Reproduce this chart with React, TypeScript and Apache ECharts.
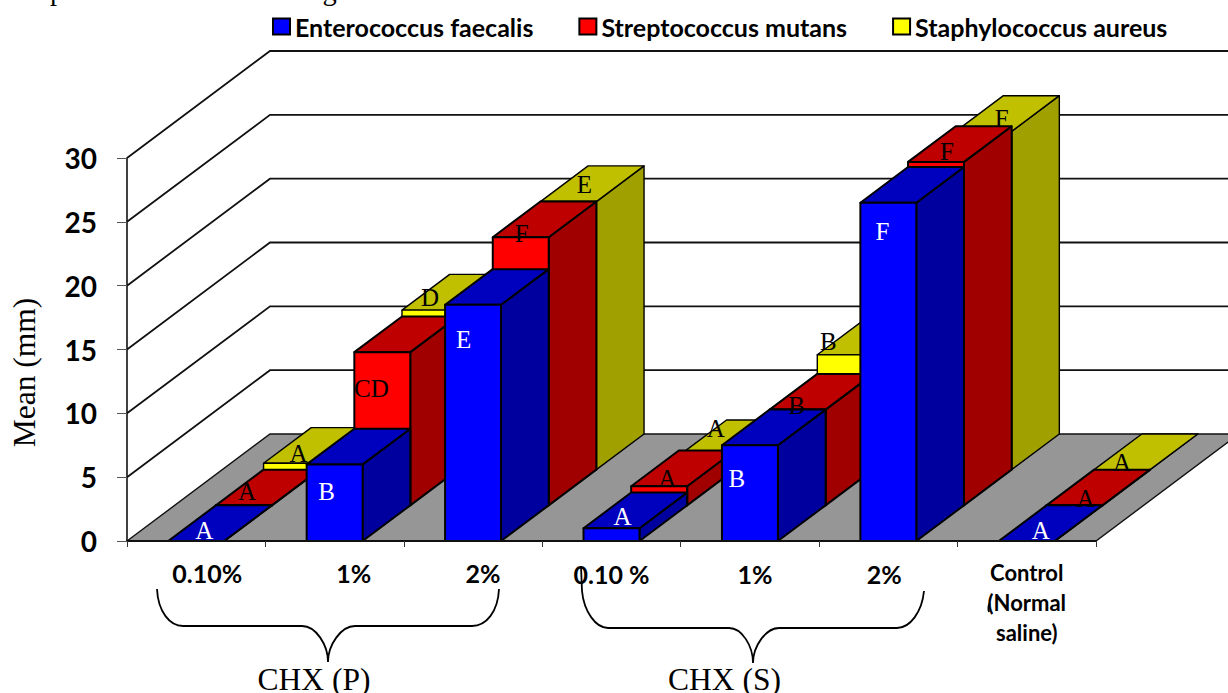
import React, { useEffect, useRef } from "react";
import * as echarts from "echarts";

const categories = ["0.10%", "1%", "2%", "0.10 %", "1%", "2%", "Control\n(Normal\nsaline)"];
const yTicks = [0, 5, 10, 15, 20, 25, 30];

const seriesNames = ["Enterococcus faecalis", "Streptococcus mutans", "Staphylococcus aureus"];
const faecalisValues = [0, 6, 18.5, 1, 7.5, 26.5, 0];
const mutansValues = [0, 12, 21, 1.5, 7.5, 26.9, 0];
const aureusValues = [0.5, 12.5, 21, 1.1, 9, 26.5, 0];

const faecalisLetters = ["A", "B", "E", "A", "B", "F", "A"];
const mutansLetters = ["A", "CD", "F", "A", "B", "F", "A"];
const aureusLetters = ["A", "D", "E", "A", "B", "F", "A"];

const groupLabels = ["CHX (P)", "CHX (S)"];
const clippedCaption = "produced zones with larger diameters than";

// ---- layout & style (not data) ----
const DEPTH_X = 143;
const DEPTH_Y = 107;
const ROW_X = DEPTH_X / 3;
const ROW_Y = DEPTH_Y / 3;
const BAR_RATIO = 56 / 138.57;
const LATO = "Lato, 'Open Sans', sans-serif";
const SERIF = "'Liberation Serif', 'Times New Roman', serif";

const palettes = [
  { front: "#0000ff", top: "#0000bf", side: "#00009f", line: 2 },
  { front: "#ff0000", top: "#bf0000", side: "#a00000", line: 2 },
  { front: "#ffff00", top: "#c0c000", side: "#a0a000", line: 1.4 },
];

// label nudges relative to each bar's top front-left corner
const labelNudges = [
  [[36, -11], [20, 27], [18.5, 35], [39, -12], [15, 33], [22, 29], [42, -11]],
  [[31, -14], [17, 36], [29, -4], [36, -8], [27, -4], [39, -10], [39, -7]],
  [[35, -10], [28, -13], [44, -17], [37, -27], [11, -13], [46, -13], [28, -7]],
];

// per-label shift of the category labels: [down, right]
const tickShift = [[5, 11], [5, 19], [5, 10], [8, 0], [8, 5], [8, -4], [0, 0]];

echarts.graphic.registerShape(
  "braceP",
  echarts.graphic.extendPath(
    "M157 589 C158 612 170 626 183 626 L302 626 C316 626 328 645 328 662 C328 645 341 626 355 626 L472 626 C486 626 498 612 499 589",
    {}
  )
);
echarts.graphic.registerShape(
  "braceS",
  echarts.graphic.extendPath(
    "M581 566 L582 591 C584 612 596 628 608 628 L729 628 C742 628 753 646 753 663 C753 646 766 628 779 628 L897 628 C910 628 922 612 924 591",
    {}
  )
);
echarts.graphic.registerShape("nick", echarts.graphic.extendPath("M990 603 C988 606 988 609 989 612", {}));

function barRenderer(row: number) {
  const pal = palettes[row];
  return (_p: any, api: any) => {
    const i = api.value(0);
    const v = api.value(1);
    const band = api.size([1, 0])[0];
    const w = band * BAR_RATIO;
    const ox = row * ROW_X;
    const oy = -row * ROW_Y;
    const base = api.coord([i, 0]);
    const head = api.coord([i, v]);
    const x0 = base[0] - w / 2 + ox;
    const x1 = x0 + w;
    const yB = base[1] + oy;
    const yT = head[1] + oy;
    const st = (fill: string) => ({ fill, stroke: "#000", lineWidth: pal.line, lineJoin: "round" });
    const poly = (points: number[][], fill: string) => ({ type: "polygon", shape: { points }, style: st(fill) });
    return {
      type: "group",
      children: [
        poly([[x1, yB], [x1 + ROW_X, yB - ROW_Y], [x1 + ROW_X, yT - ROW_Y], [x1, yT]], pal.side),
        poly([[x0, yT], [x1, yT], [x1 + ROW_X, yT - ROW_Y], [x0 + ROW_X, yT - ROW_Y]], pal.top),
        poly([[x0, yB], [x1, yB], [x1, yT], [x0, yT]], pal.front),
      ],
    };
  };
}

function letterRenderer(row: number, letters: string[], fill: string) {
  return (_p: any, api: any) => {
    const i = api.value(0);
    const v = api.value(1);
    const band = api.size([1, 0])[0];
    const p = api.coord([i, v]);
    const n = labelNudges[row][i];
    return {
      type: "text",
      x: p[0] - (band * BAR_RATIO) / 2 + row * ROW_X + n[0],
      y: p[1] - row * ROW_Y + n[1],
      style: { text: letters[i], fill, font: `25px ${SERIF}`, align: "center", verticalAlign: "middle" },
    };
  };
}

const renderFloor = (_p: any, api: any) => {
  const band = api.size([1, 0])[0];
  const a = api.coord([0, 0]);
  const b = api.coord([categories.length - 1, 0]);
  const xl = a[0] - band / 2;
  const xr = b[0] + band / 2;
  return {
    type: "polygon",
    shape: { points: [[xl, a[1]], [xl + DEPTH_X, a[1] - DEPTH_Y], [xr + DEPTH_X, a[1] - DEPTH_Y], [xr, a[1]]] },
    style: { fill: "#969696", stroke: "#111", lineWidth: 1.4 },
  };
};

const renderWall = (_p: any, api: any) => {
  const band = api.size([1, 0])[0];
  const v = api.value(1);
  const a = api.coord([0, v]);
  const b = api.coord([categories.length - 1, v]);
  const xl = a[0] - band / 2;
  const xr = b[0] + band / 2;
  return {
    type: "polyline",
    shape: { points: [[xl, a[1]], [xl + DEPTH_X, a[1] - DEPTH_Y], [xr + DEPTH_X, a[1] - DEPTH_Y]] },
    style: { fill: null, stroke: "#111", lineWidth: 1.8 },
  };
};

const pairs = (vals: number[]) => vals.map((v, i) => [i, v]);

function buildOption(): any {
  const valueSets = [faecalisValues, mutansValues, aureusValues];
  const letterSets = [faecalisLetters, mutansLetters, aureusLetters];
  const letterFill = ["#ffffff", "#000000", "#000000"];
  const rich: any = {};
  tickShift.forEach((s, i) => {
    const control = i === categories.length - 1;
    rich["a" + i] = {
      fontFamily: LATO,
      fontWeight: "bold",
      fontSize: control ? 22 : 25,
      lineHeight: control ? 30 : 26,
      color: "#000",
      padding: [s[0], s[1] < 0 ? -2 * s[1] : 0, 0, s[1] > 0 ? 2 * s[1] : 0],
    };
  });
  return {
    animation: false,
    backgroundColor: "#ffffff",
    grid: { left: 126, top: 158, width: 970, height: 383, containLabel: false },
    legend: {
      left: 267,
      top: 9,
      itemWidth: 17,
      itemHeight: 16,
      itemGap: 45,
      selectedMode: false,
      textStyle: { fontFamily: LATO, fontWeight: "bold", fontSize: 25, color: "#000" },
      data: seriesNames.map((name, r) => ({
        name,
        icon: "rect",
        itemStyle: { color: palettes[r].front, borderColor: "#000", borderWidth: 2 },
      })),
    },
    xAxis: {
      type: "category",
      data: categories,
      z: 6,
      axisLine: { lineStyle: { color: "#111", width: 2 } },
      axisTick: { show: true, alignWithLabel: false, length: 6, lineStyle: { color: "#333", width: 1 } },
      splitLine: { show: false },
      axisLabel: {
        interval: 0,
        margin: 16,
        formatter: (value: string, index: number) => `{a${index}|${value}}`,
        rich,
      },
    },
    yAxis: {
      type: "value",
      min: yTicks[0],
      max: yTicks[yTicks.length - 1],
      interval: 5,
      z: 6,
      name: "Mean (mm)",
      nameLocation: "middle",
      nameRotate: 90,
      nameGap: 87,
      nameTextStyle: { fontFamily: SERIF, fontSize: 31.5, color: "#000", padding: [0, 46, 0, 0] },
      axisLine: { show: true, lineStyle: { color: "#111", width: 1.6 } },
      axisTick: { show: true, length: 10, lineStyle: { color: "#555", width: 1 } },
      splitLine: { show: false },
      axisLabel: { margin: 30, fontFamily: LATO, fontWeight: "bold", fontSize: 28, color: "#000" },
    },
    graphic: [
      {
        type: "text",
        x: 50,
        y: 5,
        style: { text: clippedCaption, font: `28.5px ${SERIF}`, fill: "#000", align: "left", verticalAlign: "bottom" },
      },
      { type: "braceP", x: 0, y: 0, style: { fill: null, stroke: "#000", lineWidth: 1.8 } },
      { type: "braceS", x: 0, y: 0, style: { fill: null, stroke: "#000", lineWidth: 1.8 } },
      { type: "nick", x: 0, y: 0, style: { fill: null, stroke: "#000", lineWidth: 1.8 } },
      {
        type: "text",
        x: 314,
        y: 679,
        style: { text: groupLabels[0], font: `31.5px ${SERIF}`, fill: "#000", align: "center", verticalAlign: "middle" },
      },
      {
        type: "text",
        x: 724.5,
        y: 679,
        style: { text: groupLabels[1], font: `31.5px ${SERIF}`, fill: "#000", align: "center", verticalAlign: "middle" },
      },
    ],
    series: [
      { type: "custom", silent: true, z: 1, renderItem: renderFloor, data: [[0, 0]], encode: { x: 0, y: 1 } },
      { type: "custom", silent: true, z: 1, renderItem: renderWall, data: yTicks.slice(1).map((t) => [0, t]), encode: { x: 0, y: 1 } },
      ...[2, 1, 0].map((r) => ({
        type: "custom",
        name: seriesNames[r],
        silent: true,
        z: 4 - r,
        itemStyle: { color: palettes[r].front },
        renderItem: barRenderer(r),
        data: pairs(valueSets[r]),
        encode: { x: 0, y: 1 },
      })),
      ...[2, 1, 0].map((r) => ({
        type: "custom",
        silent: true,
        z: 10,
        renderItem: letterRenderer(r, letterSets[r], letterFill[r]),
        data: pairs(valueSets[r]),
        encode: { x: 0, y: 1 },
      })),
    ],
  };
}

export default function App() {
  const ref = useRef<HTMLDivElement>(null);
  useEffect(() => {
    document.body.style.margin = "0";
    document.body.style.overflow = "hidden";
    const chart = echarts.init(ref.current!, null, { renderer: "svg", width: 1228, height: 693 });
    chart.setOption(buildOption());
    return () => chart.dispose();
  }, []);
  return <div ref={ref} style={{ width: 1228, height: 693 }} />;
}
